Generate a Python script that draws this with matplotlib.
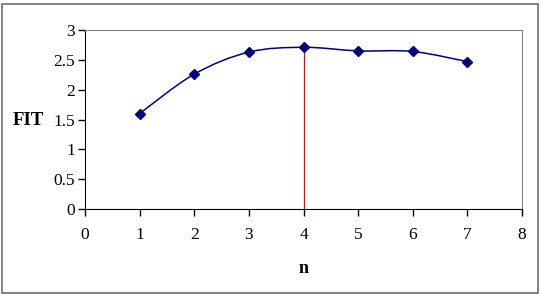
import matplotlib

matplotlib.use("Agg")
import matplotlib.pyplot as plt
import numpy as np
from matplotlib.patches import PathPatch, Rectangle
from matplotlib.path import Path

n_values = [1, 2, 3, 4, 5, 6, 7]
fit_values = [1.60, 2.26, 2.63, 2.71, 2.65, 2.64, 2.47]
best_n = 4
best_fit = 2.71
x_ticks = [0, 1, 2, 3, 4, 5, 6, 7, 8]
y_ticks = [0, 0.5, 1, 1.5, 2, 2.5, 3]
y_tick_labels = ["0", "0.5", "1", "1.5", "2", "2.5", "3"]

plt.rcParams["font.family"] = ["Liberation Serif", "DejaVu Serif"]


def smooth_path(xs, ys, tension=1 / 6):
    # Excel-style smoothed line: cubic Bezier segments between the points
    pts = np.column_stack([xs, ys]).astype(float)
    verts = [pts[0]]
    codes = [Path.MOVETO]
    for i in range(len(pts) - 1):
        p0 = pts[i - 1] if i > 0 else pts[i]
        p1 = pts[i]
        p2 = pts[i + 1]
        p3 = pts[i + 2] if i + 2 < len(pts) else pts[i + 1]
        c1 = p1 + (p2 - p0) * tension
        c2 = p2 - (p3 - p1) * tension
        verts += [c1, c2, p2]
        codes += [Path.CURVE4] * 3
    return Path(verts, codes)


fig = plt.figure(figsize=(5.41, 2.94), dpi=100)
fig.patches.append(
    Rectangle((1.5 / 541, 1 / 294), 536 / 541, 289 / 294, transform=fig.transFigure,
              fill=False, edgecolor="#6e6e6e", linewidth=1.2)
)
ax = fig.add_axes([85 / 541, 85 / 294, 437 / 541, 179 / 294])

ax.add_patch(PathPatch(smooth_path(n_values, fit_values), fill=False,
                       edgecolor="#000080", linewidth=1.1, zorder=3))
ax.plot(n_values, fit_values, linestyle="none", marker="D", markersize=5,
        color="#000080", zorder=4)
ax.plot([best_n, best_n], [0, best_fit], color="#ff0000", linewidth=0.9, zorder=2)

ax.set_xlim(0, 8)
ax.set_ylim(0, 3)
ax.set_xticks(x_ticks)
ax.set_yticks(y_ticks)
ax.set_yticklabels(y_tick_labels)
ax.tick_params(direction="out", length=5, width=1, labelsize=12.5, colors="black")
ax.tick_params(axis="x", pad=8)
ax.tick_params(axis="y", pad=2)

for side in ["top", "right"]:
    ax.spines[side].set_color("#808080")
for side in ["left", "bottom"]:
    ax.spines[side].set_color("black")

ax.set_xlabel("n", fontsize=13, fontweight="bold", labelpad=12)
ax.set_ylabel("FIT", fontsize=13.5, fontweight="bold", rotation=0, labelpad=0,
              ha="center", va="center")
ax.yaxis.set_label_coords(-0.13, 0.497)

fig.savefig("out.png", dpi=100)
